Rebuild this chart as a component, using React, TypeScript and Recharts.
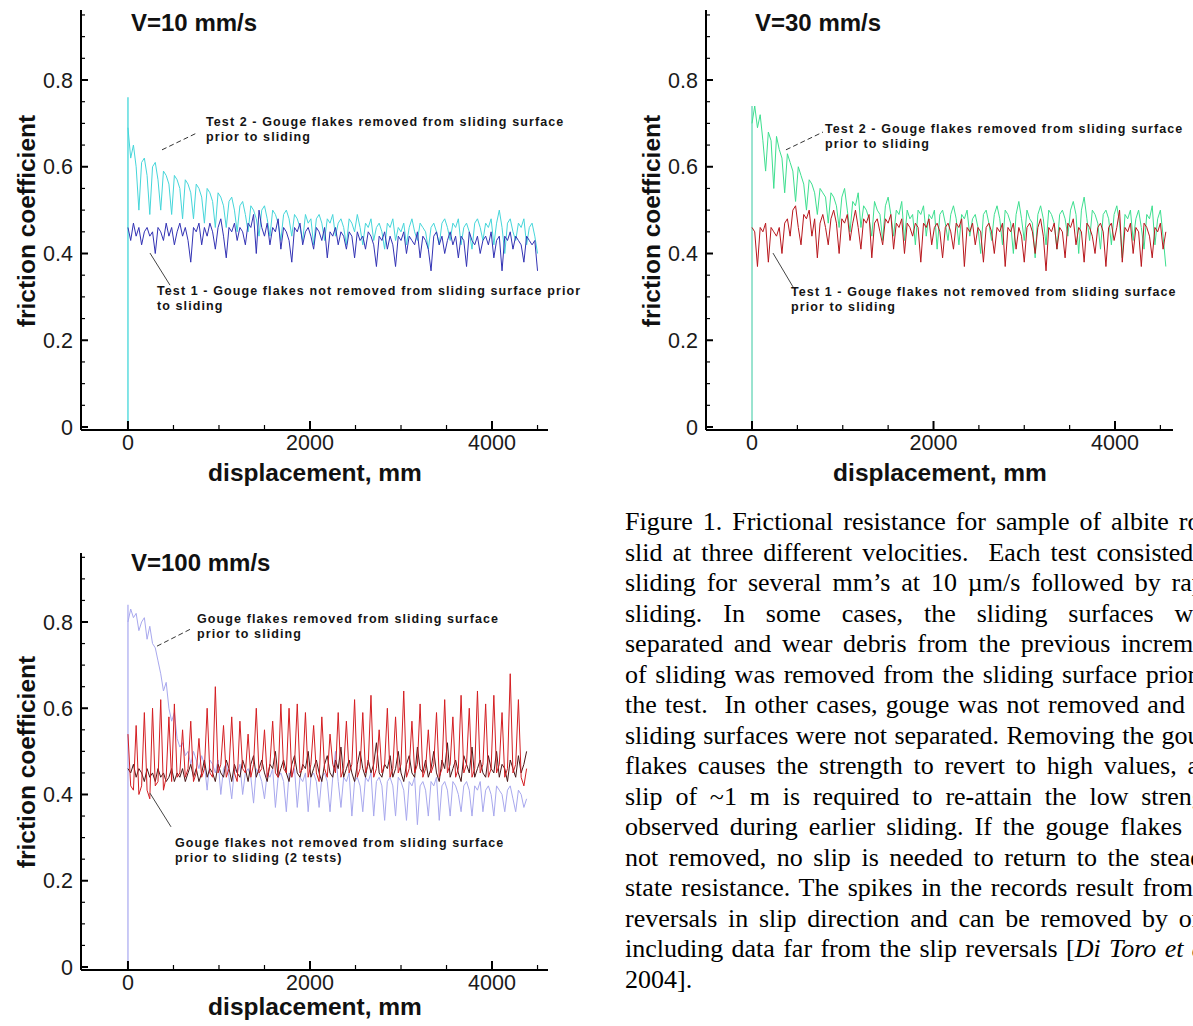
import React from 'react';
import { LineChart, Line, XAxis, YAxis, ReferenceLine } from 'recharts';

// displacement grid shared by all records (mm)
const DISP_MM = [
  0, 30, 60, 90, 120, 150, 180, 210, 240, 270, 300, 330, 360, 390, 420, 450, 480, 510, 540, 570,
  600, 630, 660, 690, 720, 750, 780, 810, 840, 870, 900, 930, 960, 990, 1020, 1050, 1080, 1110, 1140, 1170,
  1200, 1230, 1260, 1290, 1320, 1350, 1380, 1410, 1440, 1470, 1500, 1530, 1560, 1590, 1620, 1650, 1680, 1710, 1740, 1770,
  1800, 1830, 1860, 1890, 1920, 1950, 1980, 2010, 2040, 2070, 2100, 2130, 2160, 2190, 2220, 2250, 2280, 2310, 2340, 2370,
  2400, 2430, 2460, 2490, 2520, 2550, 2580, 2610, 2640, 2670, 2700, 2730, 2760, 2790, 2820, 2850, 2880, 2910, 2940, 2970,
  3000, 3030, 3060, 3090, 3120, 3150, 3180, 3210, 3240, 3270, 3300, 3330, 3360, 3390, 3420, 3450, 3480, 3510, 3540, 3570,
  3600, 3630, 3660, 3690, 3720, 3750, 3780, 3810, 3840, 3870, 3900, 3930, 3960, 3990, 4020, 4050, 4080, 4110, 4140, 4170,
  4200, 4230, 4260, 4290, 4320, 4350, 4380, 4410, 4440, 4470, 4500, 4530, 4560,
];
const ONSET_MM = [0, 0];

// V = 10 mm/s
const V10_REMOVED_ONSET = [0, 0.76];
const V10_REMOVED = [
  0.69,
  0.62, 0.65, 0.60, 0.50, 0.61, 0.62, 0.58, 0.49, 0.60, 0.61,
  0.57, 0.50, 0.59, 0.58, 0.56, 0.49, 0.58, 0.57, 0.55, 0.48,
  0.57, 0.56, 0.54, 0.48, 0.56, 0.55, 0.53, 0.47, 0.55, 0.54,
  0.52, 0.46, 0.54, 0.53, 0.51, 0.46, 0.52, 0.53, 0.50, 0.45,
  0.51, 0.52, 0.49, 0.45, 0.51, 0.50, 0.48, 0.44, 0.50, 0.51,
  0.48, 0.44, 0.50, 0.49, 0.47, 0.43, 0.49, 0.50, 0.48, 0.44,
  0.49, 0.48, 0.46, 0.43, 0.49, 0.47, 0.48, 0.42, 0.48, 0.49,
  0.47, 0.43, 0.48, 0.47, 0.49, 0.44, 0.47, 0.48, 0.46, 0.42,
  0.48, 0.47, 0.45, 0.49, 0.46, 0.42, 0.47, 0.46, 0.48, 0.43,
  0.46, 0.47, 0.45, 0.41, 0.47, 0.46, 0.48, 0.43, 0.46, 0.45,
  0.47, 0.42, 0.46, 0.48, 0.45, 0.43, 0.47, 0.46, 0.45, 0.41,
  0.46, 0.47, 0.45, 0.42, 0.47, 0.48, 0.46, 0.43, 0.47, 0.46,
  0.48, 0.42, 0.46, 0.47, 0.45, 0.41, 0.47, 0.48, 0.46, 0.43,
  0.47, 0.46, 0.48, 0.42, 0.47, 0.50, 0.46, 0.40, 0.47, 0.48,
  0.45, 0.43, 0.47, 0.46, 0.48, 0.42, 0.46, 0.47, 0.44, 0.40,
];
const V10_KEPT = [
  0.46,
  0.43, 0.47, 0.44, 0.46, 0.42, 0.45, 0.46, 0.44, 0.45, 0.40,
  0.46, 0.45, 0.43, 0.47, 0.44, 0.46, 0.42, 0.45, 0.47, 0.44,
  0.46, 0.43, 0.38, 0.46, 0.45, 0.47, 0.42, 0.46, 0.44, 0.47,
  0.45, 0.41, 0.46, 0.48, 0.44, 0.39, 0.46, 0.45, 0.47, 0.43,
  0.46, 0.45, 0.42, 0.47, 0.46, 0.49, 0.40, 0.50, 0.46, 0.44,
  0.47, 0.42, 0.46, 0.45, 0.48, 0.41, 0.46, 0.45, 0.43, 0.38,
  0.46, 0.45, 0.47, 0.42, 0.45, 0.46, 0.44, 0.41, 0.46, 0.45,
  0.43, 0.46, 0.39, 0.45, 0.44, 0.46, 0.42, 0.45, 0.44, 0.41,
  0.45, 0.44, 0.39, 0.45, 0.43, 0.44, 0.41, 0.45, 0.44, 0.42,
  0.37, 0.44, 0.43, 0.45, 0.41, 0.44, 0.42, 0.37, 0.44, 0.43,
  0.45, 0.40, 0.44, 0.43, 0.42, 0.45, 0.39, 0.44, 0.43, 0.41,
  0.36, 0.44, 0.45, 0.42, 0.44, 0.40, 0.43, 0.45, 0.42, 0.44,
  0.39, 0.44, 0.43, 0.37, 0.45, 0.43, 0.42, 0.44, 0.40, 0.43,
  0.44, 0.42, 0.45, 0.39, 0.43, 0.44, 0.36, 0.44, 0.43, 0.45,
  0.41, 0.44, 0.43, 0.42, 0.38, 0.44, 0.43, 0.42, 0.43, 0.36,
];

// V = 30 mm/s
const V30_REMOVED_ONSET = [0, 0.74];
const V30_REMOVED = [
  0.70,
  0.74, 0.69, 0.72, 0.66, 0.59, 0.68, 0.66, 0.55, 0.67, 0.64,
  0.62, 0.54, 0.63, 0.61, 0.59, 0.52, 0.60, 0.58, 0.56, 0.50,
  0.57, 0.56, 0.54, 0.49, 0.55, 0.54, 0.53, 0.47, 0.54, 0.53,
  0.51, 0.46, 0.53, 0.55, 0.50, 0.45, 0.52, 0.51, 0.54, 0.46,
  0.51, 0.50, 0.48, 0.44, 0.52, 0.50, 0.49, 0.43, 0.51, 0.53,
  0.49, 0.44, 0.50, 0.49, 0.52, 0.43, 0.50, 0.48, 0.49, 0.42,
  0.50, 0.49, 0.51, 0.44, 0.49, 0.48, 0.50, 0.41, 0.49, 0.50,
  0.47, 0.43, 0.49, 0.51, 0.48, 0.42, 0.49, 0.48, 0.50, 0.44,
  0.48, 0.49, 0.46, 0.40, 0.49, 0.50, 0.47, 0.43, 0.49, 0.51,
  0.48, 0.42, 0.50, 0.49, 0.47, 0.40, 0.49, 0.52, 0.48, 0.43,
  0.50, 0.48, 0.47, 0.39, 0.49, 0.51, 0.48, 0.42, 0.50, 0.49,
  0.47, 0.41, 0.49, 0.50, 0.48, 0.44, 0.50, 0.52, 0.49, 0.40,
  0.50, 0.53, 0.48, 0.43, 0.50, 0.49, 0.47, 0.41, 0.49, 0.50,
  0.48, 0.42, 0.49, 0.51, 0.47, 0.39, 0.49, 0.48, 0.50, 0.43,
  0.48, 0.50, 0.46, 0.41, 0.49, 0.48, 0.51, 0.42, 0.48, 0.50,
  0.44, 0.37,
];
const V30_KEPT = [
  0.46,
  0.45, 0.37, 0.46, 0.45, 0.47, 0.38, 0.46, 0.45, 0.44, 0.46,
  0.40, 0.47, 0.48, 0.44, 0.50, 0.51, 0.46, 0.42, 0.49, 0.48,
  0.50, 0.44, 0.48, 0.39, 0.47, 0.49, 0.46, 0.42, 0.48, 0.50,
  0.47, 0.40, 0.48, 0.47, 0.49, 0.43, 0.47, 0.50, 0.46, 0.41,
  0.48, 0.47, 0.49, 0.39, 0.47, 0.48, 0.45, 0.42, 0.48, 0.47,
  0.49, 0.41, 0.47, 0.46, 0.48, 0.40, 0.47, 0.46, 0.44, 0.47,
  0.46, 0.38, 0.47, 0.46, 0.48, 0.42, 0.46, 0.47, 0.45, 0.39,
  0.46, 0.47, 0.45, 0.41, 0.47, 0.46, 0.48, 0.37, 0.46, 0.45,
  0.47, 0.42, 0.46, 0.45, 0.38, 0.46, 0.47, 0.45, 0.40, 0.46,
  0.45, 0.47, 0.37, 0.46, 0.45, 0.47, 0.41, 0.46, 0.44, 0.38,
  0.46, 0.47, 0.45, 0.40, 0.46, 0.48, 0.44, 0.36, 0.46, 0.45,
  0.47, 0.41, 0.46, 0.45, 0.39, 0.47, 0.46, 0.48, 0.42, 0.46,
  0.45, 0.38, 0.47, 0.46, 0.44, 0.40, 0.46, 0.47, 0.45, 0.37,
  0.46, 0.47, 0.43, 0.46, 0.50, 0.38, 0.46, 0.45, 0.47, 0.40,
  0.46, 0.45, 0.37, 0.47, 0.46, 0.44, 0.39, 0.46, 0.45, 0.47,
  0.41, 0.45,
];

// V = 100 mm/s
const V100_REMOVED_ONSET = [0, 0.84];
const V100_REMOVED = [
  0.80,
  0.83, 0.81, 0.82, 0.78, 0.80, 0.81, 0.76, 0.79, 0.75, 0.74,
  0.71, 0.68, 0.64, 0.66, 0.60, 0.57, 0.59, 0.53, 0.51, 0.52,
  0.49, 0.50, 0.47, 0.50, 0.48, 0.46, 0.49, 0.47, 0.41, 0.48,
  0.47, 0.45, 0.48, 0.40, 0.46, 0.47, 0.44, 0.39, 0.46, 0.45,
  0.47, 0.40, 0.45, 0.46, 0.44, 0.38, 0.46, 0.45, 0.43, 0.39,
  0.45, 0.44, 0.46, 0.37, 0.44, 0.45, 0.43, 0.36, 0.45, 0.44,
  0.46, 0.37, 0.44, 0.43, 0.45, 0.36, 0.44, 0.45, 0.43, 0.37,
  0.44, 0.45, 0.43, 0.36, 0.44, 0.50, 0.43, 0.37, 0.44, 0.43,
  0.45, 0.35, 0.43, 0.44, 0.42, 0.36, 0.44, 0.43, 0.45, 0.35,
  0.43, 0.44, 0.42, 0.34, 0.43, 0.44, 0.42, 0.35, 0.44, 0.43,
  0.41, 0.34, 0.43, 0.42, 0.44, 0.33, 0.42, 0.43, 0.41, 0.35,
  0.43, 0.42, 0.44, 0.34, 0.42, 0.43, 0.41, 0.35, 0.43, 0.42,
  0.40, 0.36, 0.42, 0.43, 0.41, 0.35, 0.42, 0.41, 0.43, 0.36,
  0.41, 0.42, 0.40, 0.35, 0.42, 0.41, 0.40, 0.36, 0.41, 0.42,
  0.39, 0.36, 0.41, 0.40, 0.37, 0.39,
];
const V100_KEPT_A = [
  0.54,
  0.42, 0.41, 0.56, 0.40, 0.42, 0.59, 0.41, 0.39, 0.60, 0.42,
  0.43, 0.62, 0.41, 0.44, 0.58, 0.43, 0.61, 0.44, 0.45, 0.55,
  0.44, 0.46, 0.57, 0.43, 0.45, 0.53, 0.44, 0.46, 0.60, 0.45,
  0.44, 0.65, 0.45, 0.47, 0.56, 0.44, 0.46, 0.58, 0.45, 0.43,
  0.57, 0.46, 0.45, 0.54, 0.44, 0.47, 0.60, 0.45, 0.46, 0.55,
  0.44, 0.47, 0.57, 0.45, 0.44, 0.61, 0.46, 0.45, 0.60, 0.44,
  0.47, 0.61, 0.45, 0.46, 0.59, 0.44, 0.47, 0.56, 0.45, 0.43,
  0.58, 0.46, 0.44, 0.54, 0.47, 0.45, 0.59, 0.44, 0.46, 0.57,
  0.45, 0.47, 0.62, 0.44, 0.46, 0.59, 0.45, 0.47, 0.63, 0.44,
  0.46, 0.55, 0.45, 0.47, 0.60, 0.44, 0.46, 0.58, 0.45, 0.47,
  0.64, 0.44, 0.46, 0.57, 0.45, 0.47, 0.61, 0.44, 0.46, 0.55,
  0.45, 0.47, 0.59, 0.44, 0.46, 0.62, 0.45, 0.47, 0.58, 0.44,
  0.46, 0.63, 0.45, 0.47, 0.60, 0.44, 0.46, 0.64, 0.45, 0.47,
  0.61, 0.44, 0.46, 0.63, 0.45, 0.47, 0.59, 0.44, 0.46, 0.68,
  0.45, 0.47, 0.62, 0.44, 0.42, 0.46,
];
const V100_KEPT_B = [
  0.46,
  0.45, 0.47, 0.44, 0.46, 0.45, 0.43, 0.46, 0.44, 0.45, 0.43,
  0.46, 0.44, 0.45, 0.43, 0.44, 0.46, 0.43, 0.45, 0.44, 0.46,
  0.43, 0.45, 0.47, 0.44, 0.46, 0.43, 0.45, 0.48, 0.44, 0.46,
  0.45, 0.43, 0.47, 0.45, 0.44, 0.48, 0.46, 0.43, 0.47, 0.45,
  0.44, 0.48, 0.46, 0.43, 0.47, 0.49, 0.44, 0.46, 0.48, 0.45,
  0.43, 0.47, 0.46, 0.50, 0.44, 0.46, 0.48, 0.45, 0.43, 0.47,
  0.49, 0.45, 0.44, 0.47, 0.46, 0.50, 0.44, 0.46, 0.48, 0.45,
  0.43, 0.47, 0.49, 0.45, 0.44, 0.48, 0.46, 0.51, 0.44, 0.46,
  0.48, 0.45, 0.43, 0.47, 0.50, 0.46, 0.44, 0.48, 0.45, 0.47,
  0.52, 0.45, 0.44, 0.47, 0.46, 0.49, 0.44, 0.46, 0.50, 0.45,
  0.43, 0.47, 0.49, 0.45, 0.44, 0.51, 0.46, 0.45, 0.48, 0.44,
  0.46, 0.50, 0.45, 0.43, 0.48, 0.46, 0.52, 0.44, 0.46, 0.48,
  0.45, 0.43, 0.49, 0.47, 0.45, 0.51, 0.44, 0.46, 0.48, 0.45,
  0.44, 0.49, 0.46, 0.45, 0.50, 0.44, 0.47, 0.46, 0.43, 0.48,
  0.46, 0.44, 0.49, 0.45, 0.47, 0.50,
];

const Y_TICKS = [0, 0.05, 0.1, 0.15, 0.2, 0.25, 0.3, 0.35, 0.4, 0.45, 0.5, 0.55, 0.6, 0.65, 0.7, 0.75, 0.8, 0.85, 0.9, 0.95];
const Y_LABELED = [0, 0.2, 0.4, 0.6, 0.8];
const X_TICKS = [0, 500, 1000, 1500, 2000, 2500, 3000, 3500, 4000, 4500];
const X_LABELED = [0, 2000, 4000];

const CAPTION_LINES = [
  'Figure 1. Frictional resistance for sample of albite rock',
  'slid at three different velocities.\u00a0 Each test consisted of',
  'sliding for several mm\u2019s at 10 \u00b5m/s followed by rapid',
  'sliding. In some cases, the sliding surfaces were',
  'separated and wear debris from the previous increment',
  'of sliding was removed from the sliding surface prior to',
  'the test.\u00a0 In other cases, gouge was not removed and the',
  'sliding surfaces were not separated. Removing the gouge',
  'flakes causes the strength to revert to high values, and',
  'slip of ~1 m is required to re-attain the low strength',
  'observed during earlier sliding. If the gouge flakes are',
  'not removed, no slip is needed to return to the steady-',
  'state resistance. The spikes in the records result from',
  'reversals in slip direction and can be removed by only',
];

const SANS = '"Liberation Sans", Arial, Helvetica, sans-serif';
const SERIF = '"Liberation Serif", "Times New Roman", serif';

const toPoints = (xs: number[], ys: number[]) => ys.map((y, i) => ({ x: xs[i], y }));

const near = (list: number[], v: number) => list.some((m) => Math.abs(m - v) < 1e-6);

function YTick(props: any) {
  const { x, y, payload } = props;
  const v = payload.value as number;
  const major = near(Y_LABELED, v);
  return (
    <g>
      <line x1={x} x2={x + (major ? 7 : 4)} y1={y} y2={y} stroke="#000" strokeWidth={major ? 2 : 1.2} />
      {major && (
        <text x={x - 8} y={y} dy="0.36em" textAnchor="end" fontSize={21.5} fontFamily={SANS} fill="#1a1a1a">
          {v === 0 ? '0' : v.toFixed(1)}
        </text>
      )}
    </g>
  );
}

function XTick(props: any) {
  const { x, y, payload } = props;
  const v = payload.value as number;
  const major = near(X_LABELED, v);
  return (
    <g>
      <line x1={x} x2={x} y1={y} y2={y - (major ? 9 : 5)} stroke="#000" strokeWidth={major ? 2 : 1.2} />
      {major && (
        <text x={x} y={y + 20} textAnchor="middle" fontSize={21.5} fontFamily={SANS} fill="#1a1a1a">
          {String(v)}
        </text>
      )}
    </g>
  );
}

interface PanelProps {
  left: number;
  top: number;
  width: number;
  height: number;
  margin: { top: number; right: number; bottom: number; left: number };
  xDomain: [number, number];
  yDomain: [number, number];
  children: React.ReactNode;
}

// the axes take 1px so that recharts still draws them; margins are set one px short
function Panel({ left, top, width, height, margin, xDomain, yDomain, children }: PanelProps) {
  return (
    <div style={{ position: 'absolute', left, top, width, height }}>
      <LineChart width={width} height={height} margin={margin}>
        <XAxis
          type="number"
          dataKey="x"
          domain={xDomain}
          allowDataOverflow
          ticks={X_TICKS}
          interval={0}
          height={1}
          tickSize={0}
          tickMargin={0}
          tickLine={false}
          tick={XTick}
          axisLine={{ stroke: '#000', strokeWidth: 2 }}
        />
        <YAxis
          type="number"
          dataKey="y"
          domain={yDomain}
          allowDataOverflow
          ticks={Y_TICKS}
          interval={0}
          width={1}
          tickSize={0}
          tickMargin={0}
          tickLine={false}
          tick={YTick}
          axisLine={{ stroke: '#000', strokeWidth: 2 }}
        />
        {children}
      </LineChart>
    </div>
  );
}

const trace = (key: string, data: { x: number; y: number }[], color: string, width = 1) => (
  <Line
    key={key}
    data={data}
    dataKey="y"
    type="linear"
    stroke={color}
    strokeWidth={width}
    dot={false}
    activeDot={false}
    isAnimationActive={false}
  />
);

const note: React.CSSProperties = {
  position: 'absolute',
  fontFamily: SANS,
  fontWeight: 700,
  fontSize: 12.5,
  lineHeight: '15px',
  letterSpacing: 1.1,
  color: '#141414',
  whiteSpace: 'nowrap',
};
const title: React.CSSProperties = {
  position: 'absolute',
  fontFamily: SANS,
  fontWeight: 700,
  fontSize: 24,
  lineHeight: '24px',
  color: '#111',
  whiteSpace: 'nowrap',
};
const xTitle: React.CSSProperties = {
  position: 'absolute',
  fontFamily: SANS,
  fontWeight: 700,
  fontSize: 24.5,
  lineHeight: '26px',
  color: '#111',
  whiteSpace: 'nowrap',
  transform: 'translate(-50%, -50%)',
};
const yTitle: React.CSSProperties = {
  ...xTitle,
  transform: 'translate(-50%, -50%) rotate(-90deg)',
};
const captionLine: React.CSSProperties = { width: 600, textAlign: 'justify', textAlignLast: 'justify' };

export default function App() {
  return (
    <div
      style={{
        position: 'absolute',
        left: 0,
        top: 0,
        width: 1193,
        height: 1026,
        background: '#fff',
        overflow: 'hidden',
      }}
    >
      {/* V = 10 mm/s */}
      <Panel
        left={0}
        top={0}
        width={600}
        height={500}
        margin={{ top: 10, right: 52, bottom: 69, left: 80 }}
        xDomain={[-516, 4615]}
        yDomain={[-0.0069, 0.9614]}
      >
        {trace('v10on', toPoints(ONSET_MM, V10_REMOVED_ONSET), '#4fd9dc', 1.4)}
        {trace('v10rm', toPoints(DISP_MM, V10_REMOVED), '#45d6da')}
        {trace('v10kp', toPoints(DISP_MM, V10_KEPT), '#3232b4')}
        <ReferenceLine segment={[{ x: 374, y: 0.639 }, { x: 758, y: 0.678 }]} stroke="#333" strokeDasharray="5 3" />
        <ReferenceLine segment={[{ x: 242, y: 0.401 }, { x: 462, y: 0.327 }]} stroke="#444" />
      </Panel>

      {/* V = 30 mm/s */}
      <Panel
        left={600}
        top={0}
        width={593}
        height={500}
        margin={{ top: 10, right: 20, bottom: 69, left: 105 }}
        xDomain={[-507, 4639]}
        yDomain={[-0.0069, 0.9614]}
      >
        {trace('v30on', toPoints(ONSET_MM, V30_REMOVED_ONSET), '#6fd8bc', 1.4)}
        {trace('v30rm', toPoints(DISP_MM, V30_REMOVED), '#3ddf8f')}
        {trace('v30kp', toPoints(DISP_MM, V30_KEPT), '#b8161c')}
        <ReferenceLine segment={[{ x: 374, y: 0.639 }, { x: 782, y: 0.68 }]} stroke="#333" strokeDasharray="5 3" />
        <ReferenceLine segment={[{ x: 231, y: 0.401 }, { x: 452, y: 0.323 }]} stroke="#444" />
      </Panel>

      {/* V = 100 mm/s */}
      <Panel
        left={0}
        top={510}
        width={600}
        height={516}
        margin={{ top: 43, right: 52, bottom: 55, left: 80 }}
        xDomain={[-516, 4615]}
        yDomain={[-0.007, 0.96]}
      >
        {trace('v100on', toPoints(ONSET_MM, V100_REMOVED_ONSET), '#b4b4f2', 1.4)}
        {trace('v100rm', toPoints(DISP_MM, V100_REMOVED), '#a8a8ee')}
        {trace('v100b', toPoints(DISP_MM, V100_KEPT_B), '#4a1616')}
        {trace('v100a', toPoints(DISP_MM, V100_KEPT_A), '#d41e22')}
        <ReferenceLine segment={[{ x: 319, y: 0.744 }, { x: 692, y: 0.784 }]} stroke="#333" strokeDasharray="5 3" />
        <ReferenceLine segment={[{ x: 242, y: 0.403 }, { x: 473, y: 0.325 }]} stroke="#444" />
      </Panel>

      {/* panel titles */}
      <div style={{ ...title, left: 131, top: 11 }}>V=10 mm/s</div>
      <div style={{ ...title, left: 755, top: 11 }}>V=30 mm/s</div>
      <div style={{ ...title, left: 131, top: 551 }}>V=100 mm/s</div>

      {/* axis titles */}
      <div style={{ ...yTitle, left: 27, top: 221 }}>friction coefficient</div>
      <div style={{ ...yTitle, left: 652, top: 221 }}>friction coefficient</div>
      <div style={{ ...yTitle, left: 27, top: 762 }}>friction coefficient</div>
      <div style={{ ...xTitle, left: 315, top: 473 }}>displacement, mm</div>
      <div style={{ ...xTitle, left: 940, top: 473 }}>displacement, mm</div>
      <div style={{ ...xTitle, left: 315, top: 1007 }}>displacement, mm</div>

      {/* annotations */}
      <div style={{ ...note, left: 206, top: 115 }}>
        Test 2 - Gouge flakes removed from sliding surface
        <br />
        prior to sliding
      </div>
      <div style={{ ...note, left: 157, top: 284 }}>
        Test 1 - Gouge flakes not removed from sliding surface prior
        <br />
        to sliding
      </div>
      <div style={{ ...note, left: 825, top: 122 }}>
        Test 2 - Gouge flakes removed from sliding surface
        <br />
        prior to sliding
      </div>
      <div style={{ ...note, left: 791, top: 285 }}>
        Test 1 - Gouge flakes not removed from sliding surface
        <br />
        prior to sliding
      </div>
      <div style={{ ...note, left: 197, top: 612 }}>
        Gouge flakes removed from sliding surface
        <br />
        prior to sliding
      </div>
      <div style={{ ...note, left: 175, top: 836 }}>
        Gouge flakes not removed from sliding surface
        <br />
        prior to sliding (2 tests)
      </div>

      {/* caption, a justified column that runs past the right edge */}
      <div
        style={{
          position: 'absolute',
          left: 625,
          top: 507,
          width: 568,
          height: 519,
          overflow: 'hidden',
          fontFamily: SERIF,
          fontSize: 26,
          lineHeight: '30.5px',
          color: '#000',
        }}
      >
        {CAPTION_LINES.map((line, i) => (
          <div key={line} style={i === 12 ? { ...captionLine, width: 568 } : captionLine}>
            {line}
          </div>
        ))}
        <div style={captionLine}>
          including data far from the slip reversals [<i>Di Toro et al.</i>,
        </div>
        <div style={{ width: 600 }}>2004].</div>
      </div>
    </div>
  );
}
